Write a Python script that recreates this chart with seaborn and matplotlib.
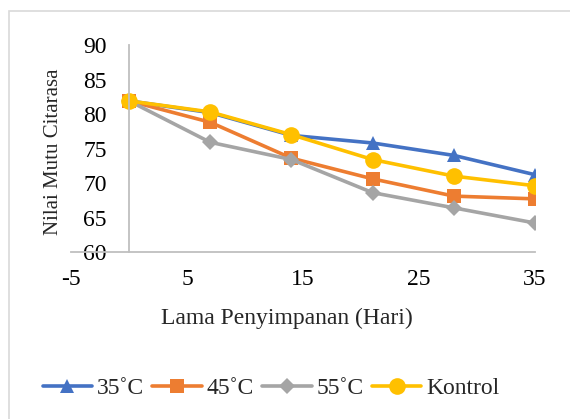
import numpy as np
import pandas as pd
import seaborn as sns
import matplotlib.pyplot as plt
from matplotlib.patches import Rectangle

sns.set_theme(style="white")
plt.rcParams['font.family'] = ['Liberation Serif', 'DejaVu Serif']
plt.rcParams['axes.unicode_minus'] = False

# data
hari = [0, 7, 14, 21, 28, 35]
suhu_35 = [81.9, 80.2, 76.9, 75.8, 74.0, 71.2]
suhu_45 = [81.9, 78.8, 73.6, 70.6, 68.1, 67.7]
suhu_55 = [81.9, 75.9, 73.4, 68.6, 66.4, 64.2]
kontrol = [81.9, 80.3, 77.0, 73.4, 71.0, 69.6]

seri = ['35˚C', '45˚C', '55˚C', 'Kontrol']
nilai = [suhu_35, suhu_45, suhu_55, kontrol]
warna = ['#4472C4', '#ED7D31', '#A5A5A5', '#FFC000']
penanda = ['^', 's', 'D', 'o']
ukuran = [10, 10, 8, 12]

fig = plt.figure(figsize=(5.7, 4.19), dpi=100)
ax = fig.add_axes([71 / 570, 1 - 252 / 419, 464 / 570, 207 / 419])

for nama, y, c, m, s in zip(seri, nilai, warna, penanda, ukuran):
    df = pd.DataFrame({'Hari': hari, 'Nilai': y})
    sns.lineplot(data=df, x='Hari', y='Nilai', ax=ax, color=c, marker=m,
                 markersize=s, markeredgewidth=0, linewidth=2.6, label=nama)

ax.set_xlim(-5, 35)
ax.set_ylim(60, 90)
ax.set_xticks([-5, 5, 15, 25, 35])
ax.set_yticks([60, 65, 70, 75, 80, 85, 90])

for sp in ['top', 'right']:
    ax.spines[sp].set_visible(False)
ax.spines['left'].set_position(('data', 0))
ax.spines['left'].set_color('#BFBFBF')
ax.spines['bottom'].set_color('#BFBFBF')
ax.spines['left'].set_linewidth(1.3)
ax.spines['bottom'].set_linewidth(1.3)

ax.tick_params(axis='both', length=0, labelsize=17, colors='black')
ax.tick_params(axis='y', pad=16)
ax.tick_params(axis='x', pad=12)

ax.set_xlabel('Lama Penyimpanan (Hari)', fontsize=17, va='center')
ax.xaxis.set_label_coords((286.5 - 71) / 464, (252 - 318) / 207)
ax.set_ylabel('Nilai Mutu Citarasa', fontsize=15, va='center')
ax.yaxis.set_label_coords((54 - 71) / 464, (252 - 151.5) / 207)

ax.legend(loc='center', bbox_to_anchor=(271 / 570, 1 - 388 / 419),
          bbox_transform=fig.transFigure, ncol=4, frameon=False, fontsize=17,
          handlelength=2.1, handletextpad=0.2, columnspacing=0.35,
          borderaxespad=0)

# outer chart border (only top and left visible)
fig.patches.append(Rectangle((9 / 570, -0.1), 1.2, 1 - 11 / 419 + 0.1,
                             transform=fig.transFigure, fill=False,
                             edgecolor='#D9D9D9', linewidth=1.2))

fig.savefig('out.png', dpi=100)
